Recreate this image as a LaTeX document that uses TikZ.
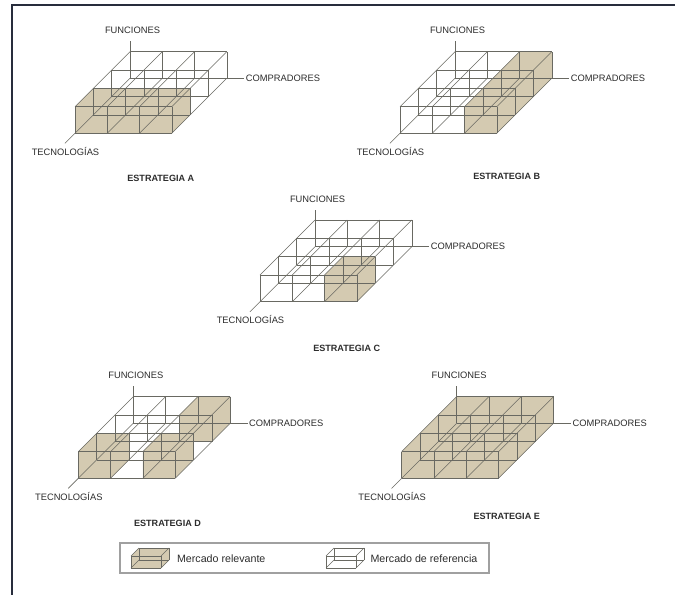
\documentclass[tikz,border=0pt]{standalone}
\usepackage{fontspec}
\setmainfont{Liberation Sans}
\definecolor{beige}{RGB}{212,202,177}
\definecolor{lineagris}{RGB}{105,105,98}
\definecolor{texto}{RGB}{45,45,45}
\definecolor{marcoazul}{RGB}{40,45,60}
\definecolor{bordeley}{RGB}{160,160,160}

\tikzset{
  rejilla/.style={draw=lineagris, line width=0.4pt},
  relevante/.style={fill=beige},
  eje/.style={font=\fontsize{7}{8}\selectfont, text=texto, inner sep=1pt},
  titulo/.style={font=\fontsize{6.8}{8}\selectfont\bfseries, text=texto, inner sep=1pt},
  leyendatxt/.style={font=\fontsize{8}{9}\selectfont, text=texto, inner sep=1pt},
  guia/.style={draw=lineagris, line width=0.45pt},
  marco/.style={draw=marcoazul, line width=1.6pt},
  leyenda/.style={draw=bordeley, line width=0.8pt},
  cubo/.style={x={(24.2pt,0pt)}, y={(13.75pt,13.75pt)}, z={(0pt,20pt)}},
  cajita/.style={x={(22.5pt,0pt)}, y={(6pt,6pt)}, z={(0pt,9pt)}},
}

% silhouette of a shaded block: x from #1 to #2, depth from #3 to #4
\newcommand{\bloque}[4]{%
  \fill[relevante] (#1,#3,0) -- (#2,#3,0) -- (#2,#4,0) -- (#2,#4,1)
    -- (#1,#4,1) -- (#1,#3,1) -- cycle;}

% one 3x3 market grid: name, origin, shaded blocks, title position, title letter
\newcommand{\mercado}[5]{%
  \begin{scope}[shift={#2}]
    \begin{scope}[cubo]
      #3
      \foreach \k in {0,1}{
        \foreach \j in {0,...,3}{\draw[rejilla] (0,\j,\k) -- (3,\j,\k);}
        \foreach \i in {0,...,3}{\draw[rejilla] (\i,0,\k) -- (\i,3,\k);}
      }
      \foreach \i in {0,...,3}{
        \foreach \j in {0,...,3}{\draw[rejilla] (\i,\j,0) -- (\i,\j,1);}
      }
      \coordinate (#1-f) at (0,3,1);
      \coordinate (#1-c) at (3,3,0);
      \coordinate (#1-t) at (0,0,0);
      \coordinate (#1-te) at (0,-0.55,0);
    \end{scope}
  \end{scope}
  \node[eje, anchor=base] (#1-fn) at ([shift={(2.5,-18)}]#1-f) {FUNCIONES};
  \draw[guia, shorten >=4.5pt] (#1-f) -- (#1-f |- #1-fn.south);
  \node[eje, anchor=west] (#1-cn) at ([shift={(17.5,0)}]#1-c) {COMPRADORES};
  \draw[guia] (#1-c) -- (#1-cn.west);
  \node[eje, anchor=base] (#1-tn) at ([shift={(-9.5,22)}]#1-t) {TECNOLOGÍAS};
  \draw[guia] (#1-t) -- (#1-te);
  \node[titulo] (#1-e) at #4 {ESTRATEGIA #5};
}

% small box used in the key
\newcommand{\caja}[3]{%
  \begin{scope}[shift={#2}]
    \begin{scope}[cajita]
      #3
      \foreach \k in {0,1}{
        \foreach \j in {0,1}{\draw[rejilla] (0,\j,\k) -- (1,\j,\k);}
        \foreach \i in {0,1}{\draw[rejilla] (\i,0,\k) -- (\i,1,\k);}
      }
      \foreach \i in {0,1}{
        \foreach \j in {0,1}{\draw[rejilla] (\i,\j,0) -- (\i,\j,1);}
      }
      \coordinate (#1) at (1,0,0);
    \end{scope}
  \end{scope}
}

\begin{document}
\begin{tikzpicture}[x=0.75pt, y=-0.75pt]
  \fill[white] (0,0) rectangle (675,595);
  \useasboundingbox (0,0) rectangle (675,595);

  % frame
  \draw[marco] (12,596) -- (12,5) -- (676,5);

  \mercado{A}{(75,133.3)}{\bloque{0}{3}{0}{1}}{(160.8,178)}{A}
  \mercado{B}{(400,133.3)}{\bloque{2}{3}{0}{3}}{(506.7,176.7)}{B}
  \mercado{C}{(260,301.7)}{\bloque{2}{3}{0}{1}}{(346.7,348.3)}{C}
  \mercado{D}{(78.3,478.3)}{\bloque{0}{1}{0}{1}\bloque{2}{3}{0}{1}\bloque{2}{3}{2}{3}}{(167.5,523.3)}{D}
  \mercado{E}{(401.7,478.3)}{\bloque{0}{3}{0}{3}}{(506.7,516.7)}{E}

  % key
  \draw[leyenda] (120,543) rectangle (489,573);
  \caja{k1}{(131,568)}{\bloque{0}{1}{0}{1}}
  \node[leyendatxt, anchor=west] (ley1) at (175.5,558.5) {Mercado relevante};
  \caja{k2}{(326,568)}{}
  \node[leyendatxt, anchor=west] (ley2) at (369,558.5) {Mercado de referencia};
\end{tikzpicture}
\end{document}
